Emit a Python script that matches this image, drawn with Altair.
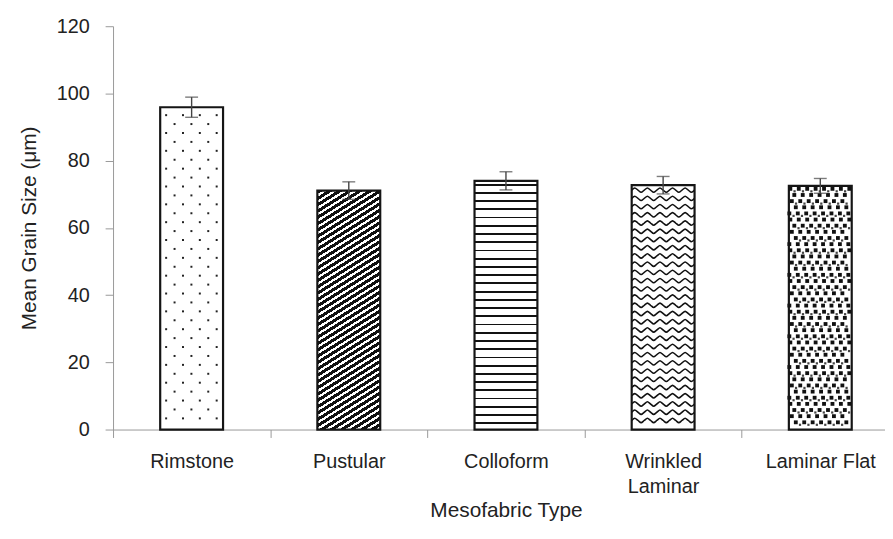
import altair as alt
import pandas as pd
import numpy as np

# ---------------- data ----------------
categories = ["Rimstone", "Pustular", "Colloform", "Wrinkled Laminar", "Laminar Flat"]
means = [95.9, 71.1, 74.0, 72.7, 72.5]
errors = [3.0, 2.6, 2.7, 2.6, 2.2]
y_ticks = [0, 20, 40, 60, 80, 100, 120]

# ---------------- layout / style constants ----------------
FONT = "Liberation Sans"
PLOT_W = 779          # visible plot width (the chart is cut at the right edge)
RANGE_W = 793         # full band range (5 bands)
PLOT_H = 407
Y_MAX = 120
N = len(categories)
STEP = RANGE_W / N
BAR_FRAC = 0.4
BAR_W = STEP * BAR_FRAC
PX = PLOT_H / Y_MAX
ON, OFF = "#111111", "#ffffff"
TITLE = "Mean Grain Size (μm)"

df = pd.DataFrame({"type": categories, "mean": means, "err": errors})
df["lo"] = df["mean"] - df["err"]
df["hi"] = df["mean"] + df["err"]

label_expr = "datum.label == 'Wrinkled Laminar' ? ['Wrinkled', 'Laminar'] : datum.label"

band_scale = alt.Scale(range=[0, RANGE_W], paddingInner=0, paddingOuter=0)
x_band = alt.X(
    "type:N", sort=categories, title="Mesofabric Type", scale=band_scale,
    axis=alt.Axis(labelAngle=0, tickBand="extent", labelExpr=label_expr,
                  labelLineHeight=26, labelPadding=14, titlePadding=3),
)
x_band_noaxis = alt.X("type:N", sort=categories, scale=band_scale, axis=None)
y_scale = alt.Scale(domain=[0, Y_MAX])
y_axis = alt.Axis(values=y_ticks, grid=False, labelPadding=16, titlePadding=17)


def y_of(field):
    return alt.Y(field, scale=y_scale, axis=y_axis, title=TITLE)


x_q = alt.X("xq:Q", scale=alt.Scale(domain=[0, N], range=[0, RANGE_W]), axis=None)


def qx(i, px):
    return i + (1 - BAR_FRAC) / 2 + px / STEP


def qy(val, py):
    return val - py / PX


# ---------------- stripe gradients ----------------
def stripe_gradient(total_px, period, on_px, phase, x2, y2):
    stops = [alt.GradientStop(offset=0, color=OFF)]
    pos = phase
    while pos < total_px:
        a = round(pos / total_px, 5)
        b = round(min((pos + on_px) / total_px, 1.0), 5)
        stops += [alt.GradientStop(offset=a, color=OFF), alt.GradientStop(offset=a, color=ON),
                  alt.GradientStop(offset=b, color=ON), alt.GradientStop(offset=b, color=OFF)]
        pos += period
    stops.append(alt.GradientStop(offset=1, color=OFF))
    return alt.LinearGradient(gradient="linear", stops=stops, x1=0, y1=0, x2=x2, y2=y2)


# Colloform: horizontal lines
h_col = means[2] * PX
grad_col = stripe_gradient(h_col, 8.3, 1.8, 3.0, 0, 1)

# Pustular: diagonal stripes rising to the right (~30 deg)
theta = np.radians(32)
h_pus = means[1] * PX
s, c = np.sin(theta), np.cos(theta)
D = BAR_W * s + h_pus * c
k = D / (BAR_W ** 2 * s ** 2 + h_pus ** 2 * c ** 2)
grad_pus = stripe_gradient(D, 5.4, 3.1, 0.0, round(k * BAR_W * s, 5), round(k * h_pus * c, 5))

fills = ["#ffffff", grad_pus, grad_col, "#ffffff", "#ffffff"]

# ---------------- pattern overlays ----------------
# Rimstone: staggered dots
dots = []
H0 = means[0] * PX
py, r = 8.0, 0
while py < H0 - 3:
    px = 6.0 if r % 2 == 0 else 14.5
    while px < BAR_W - 3:
        dots.append({"xq": qx(0, px), "mean": qy(means[0], py)})
        px += 17
    py += 9
    r += 1
dots = pd.DataFrame(dots)

# Wrinkled Laminar: wavy lines
waves = []
H3 = means[3] * PX
quarter = BAR_W / 20
amp = 2.2
offs = [0, -amp, 0, amp]
py, row = 5.0, 0
while py < H3 - 3:
    for j in range(21):
        waves.append({"xq": qx(3, j * quarter), "mean": qy(means[3], py + offs[j % 4]),
                      "row": row, "j": j})
    py += 8.3
    row += 1
waves = pd.DataFrame(waves)

# Laminar Flat: confetti squares
big, small = [], []
H4 = means[4] * PX
big_off = [1.5, 5.5, 3.0, 7.0, 0.5]
py, r = 3.0, 0
while py < H4 - 2:
    px = big_off[r % 5]
    while px < BAR_W - 2:
        big.append({"xq": qx(4, px), "mean": qy(means[4], py)})
        if r % 2 == 0 and px + 4.25 < BAR_W - 2:
            small.append({"xq": qx(4, px + 4.25), "mean": qy(means[4], py + 2.5)})
        px += 8.5
    py += 6.2
    r += 1
big = pd.DataFrame(big)
small = pd.DataFrame(small)

# ---------------- layers ----------------
base = alt.Chart(df)
fill_layers = [
    base.transform_filter(alt.datum.type == cat)
    .mark_bar(width=alt.RelativeBandSize(BAR_FRAC), fill=f, strokeWidth=0)
    .encode(x=x_band, y=y_of("mean:Q"))
    for cat, f in zip(categories, fills)
]

dot_layer = alt.Chart(dots).mark_square(size=4, color="#222222", opacity=1).encode(
    x=x_q, y=y_of("mean:Q"))
wave_layer = alt.Chart(waves).mark_line(interpolate="monotone", color=ON, strokeWidth=1.6).encode(
    x=x_q, y=y_of("mean:Q"), detail="row:N", order="j:Q")
big_layer = alt.Chart(big).mark_square(size=15, color=ON, opacity=1).encode(
    x=x_q, y=y_of("mean:Q"))
small_layer = alt.Chart(small).mark_square(size=5, color="#444444", opacity=1).encode(
    x=x_q, y=y_of("mean:Q"))

outline = base.mark_bar(width=alt.RelativeBandSize(BAR_FRAC), fillOpacity=0,
                        stroke="#151515", strokeWidth=2.2).encode(x=x_band_noaxis, y=y_of("mean:Q"))

err_rule = base.mark_rule(color="#444444", strokeWidth=1.4).encode(
    x=x_band_noaxis, y=y_of("lo:Q"), y2="hi:Q")
cap_lo = base.mark_tick(color="#444444", size=13, thickness=1.4).encode(
    x=x_band_noaxis, y=y_of("lo:Q"))
cap_hi = base.mark_tick(color="#444444", size=13, thickness=1.4).encode(
    x=x_band_noaxis, y=y_of("hi:Q"))

fills_layer = alt.layer(*fill_layers)
pattern_layers = alt.layer(dot_layer, wave_layer, big_layer, small_layer)
top_layers = alt.layer(outline, err_rule, cap_lo, cap_hi)

chart = alt.layer(
    fills_layer, pattern_layers, top_layers
).resolve_scale(
    x="independent"
).properties(
    width=PLOT_W, height=PLOT_H,
    autosize=alt.AutoSizeParams(type="none"),
    padding={"left": 106, "top": 16, "right": 0, "bottom": 100},
).configure(
    font=FONT
).configure_view(
    stroke=None
).configure_axis(
    domainColor="#999999", tickColor="#999999", tickSize=8, domainWidth=1, tickWidth=1,
    labelFont=FONT, titleFont=FONT, labelFontSize=20, titleFontSize=21,
    titleFontWeight="normal", labelColor="#222222", titleColor="#222222",
)

chart.save("out.html", embed_options={"renderer": "svg", "actions": False})
